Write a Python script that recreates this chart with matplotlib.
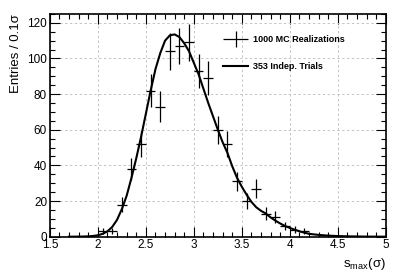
import numpy as np
import matplotlib.pyplot as plt
from matplotlib.ticker import MultipleLocator
from matplotlib.legend_handler import HandlerErrorbar

plt.rcParams['font.family'] = ['Liberation Sans', 'DejaVu Sans']

# histogram of MC realizations (bin centers, counts)
bin_centers = [2.05, 2.15, 2.25, 2.35, 2.45, 2.55, 2.65, 2.75, 2.85, 2.95,
               3.05, 3.15, 3.25, 3.35, 3.45, 3.55, 3.65, 3.75, 3.85, 3.95,
               4.05, 4.15]
counts = [3, 3, 18, 38, 52, 82, 73, 104, 107, 109,
          93, 89, 60, 52, 31, 20, 27, 13, 11, 6,
          4, 3]

# smooth curve from independent trials
curve_x = [1.70, 1.80, 1.85, 1.90, 1.95, 2.00, 2.05, 2.10, 2.15, 2.20,
           2.25, 2.30, 2.35, 2.40, 2.45, 2.50, 2.55, 2.60, 2.65, 2.70,
           2.75, 2.80, 2.85, 2.90, 2.95, 3.00, 3.05, 3.10, 3.15, 3.20,
           3.25, 3.30, 3.35, 3.40, 3.45, 3.50, 3.55, 3.60, 3.65, 3.70,
           3.75, 3.80, 3.85, 3.90, 3.95, 4.00, 4.10, 4.20, 4.30, 4.40,
           4.50, 4.60, 4.80, 5.00]
curve_y = [0, 0.05, 0.1, 0.2, 0.4, 0.8, 1.6, 3.0, 5.5, 9.5,
           15.5, 23, 33, 44, 56, 69, 82, 94, 103, 110,
           113, 113.5, 112, 108.5, 104, 97.5, 91, 83, 75, 67.5,
           60, 53, 47, 39.5, 33, 28, 23.5, 19.5, 16.5, 14.5,
           13, 10.8, 9.0, 7.4, 6.0, 4.9, 3.0, 1.6, 1.0, 0.6,
           0.35, 0.2, 0.05, 0]

fig = plt.figure(figsize=(3.99, 2.73), dpi=100)
ax = fig.add_axes([0.125, 0.133, 0.842, 0.816])

yerr = np.sqrt(counts)
eb = ax.errorbar(bin_centers, counts, xerr=0.05, yerr=yerr, fmt='none',
                 ecolor='black', elinewidth=0.9, capsize=0)
ln, = ax.plot(curve_x, curve_y, color='black', lw=1.5)

ax.set_xlim(1.5, 5)
ax.set_ylim(0, 125)
ax.xaxis.set_minor_locator(MultipleLocator(0.1))
ax.yaxis.set_major_locator(MultipleLocator(20))
ax.yaxis.set_minor_locator(MultipleLocator(5))
ax.set_xticks([1.5, 2, 2.5, 3, 3.5, 4, 4.5, 5])
ax.set_xticklabels(['1.5', '2', '2.5', '3', '3.5', '4', '4.5', '5'])
ax.tick_params(which='both', direction='in', top=True, right=True,
               labelsize=8.5, pad=2)
ax.tick_params(which='major', length=7, width=0.8)
ax.tick_params(which='minor', length=3.6, width=0.8)
for s in ax.spines.values():
    s.set_linewidth(1.2)
ax.grid(True, which='major', ls=(0, (2.5, 2.5)), color='#c4c4c4', lw=0.7)

ax.set_ylabel('Entries / 0.1σ', loc='top', fontsize=9.5, labelpad=4)
ax.set_xlabel(r'$\mathregular{s_{max}(\sigma)}$', loc='right', fontsize=9.5,
              labelpad=3)

ax.legend([eb, ln], ['1000 MC Realizations', '353 Indep. Trials'],
          loc='upper left', bbox_to_anchor=(0.515, 0.905), frameon=False,
          prop={'weight': 'bold', 'size': 6.5}, handlelength=2.8,
          labelspacing=2.0, handletextpad=0.55, borderpad=0,
          borderaxespad=0,
          handler_map={type(eb): HandlerErrorbar(xerr_size=1.4,
                                                 yerr_size=0.9)})

fig.savefig('out.png', dpi=100)
